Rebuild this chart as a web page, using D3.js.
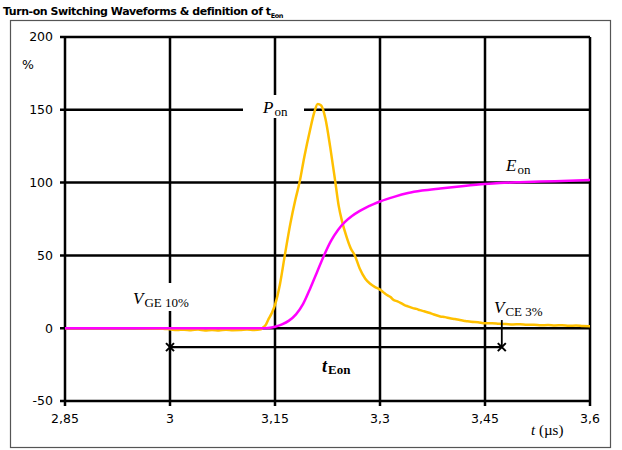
<!DOCTYPE html>
<html>
<head>
<meta charset="utf-8">
<script src="https://cdn.jsdelivr.net/npm/d3@7"></script>
<style>
  body { margin: 0; background: #fff; }
  svg { display: block; }
</style>
</head>
<body>
<svg id="drawing_region"></svg>
<script>
// time axis in microseconds, values in %
const xTicks = [2.85, 3, 3.15, 3.3, 3.45, 3.6];
const yTicks = [-50, 0, 50, 100, 150, 200];

const ponTime = [2.85, 2.9, 2.95, 2.99, 3.0, 3.01, 3.02, 3.03, 3.04, 3.05, 3.06, 3.07, 3.08, 3.09, 3.10, 3.11, 3.12, 3.13,
  3.133, 3.137, 3.140, 3.145, 3.150, 3.157, 3.164, 3.172, 3.179, 3.185, 3.192, 3.200, 3.206, 3.211, 3.216, 3.222,
  3.229, 3.236, 3.241, 3.246, 3.252, 3.258, 3.264, 3.271, 3.279, 3.286, 3.293, 3.300, 3.305, 3.310, 3.315, 3.319,
  3.325, 3.330, 3.335, 3.340, 3.347, 3.352, 3.357, 3.363, 3.370, 3.377, 3.386, 3.393, 3.400, 3.407, 3.414, 3.422,
  3.430, 3.440, 3.450, 3.460, 3.470, 3.480, 3.490, 3.500, 3.510, 3.520, 3.530, 3.540, 3.550, 3.560, 3.570, 3.580, 3.590, 3.600];
const ponValue = [0, 0, 0, -0.3, -0.8, -1.3, -1.0, -1.4, -0.9, -1.5, -1.2, -1.6, -1.0, -1.4, -1.3, -0.9, -1.2, -0.7,
  0.5, 2.5, 5.5, 10, 16, 30, 50, 72, 88, 100, 118, 136, 148, 154, 153, 144,
  124, 101, 84, 73, 63, 55, 50, 41, 34, 30.5, 28.2, 26.5, 24.6, 22.8, 21.4, 19.5,
  18.4, 17.2, 15.9, 15.0, 13.8, 13.3, 12.4, 11.6, 10.6, 9.4, 8.1, 7.6, 6.8, 6.3, 5.6, 5.0,
  4.4, 4.1, 3.4, 3.4, 3.0, 2.8, 2.6, 2.7, 2.3, 2.4, 2.0, 2.2, 1.9, 2.0, 1.7, 1.8, 1.5, 1.4];

const eonTime = [2.85, 3.0, 3.13, 3.14, 3.15, 3.16, 3.17, 3.18, 3.19, 3.2, 3.21, 3.22, 3.23, 3.24, 3.25, 3.26,
  3.27, 3.28, 3.29, 3.3, 3.32, 3.34, 3.36, 3.386, 3.42, 3.45, 3.471, 3.5, 3.55, 3.6];
const eonValue = [0, 0, 0, 0.2, 1, 2.6, 5.2, 9.5, 16.5, 27, 38.5, 50, 60, 67.5, 73, 77,
  80.2, 82.8, 85, 87, 90.2, 92.8, 94.5, 96, 97.7, 99, 99.7, 100.3, 101, 101.8];

// tEon definition: from VGE 10% to VCE 3%
const tEonStart = 3.0;
const tEonEnd = 3.474;
const tEonLevel = -13;
const vceMarkTop = 5.6;

class WaveChart {

    constructor( config ) {
        this.config = {
            parent: config.parent,
            width: config.width || 622,
            height: config.height || 450,
            margin: config.margin || {top:37, right:32, bottom:49, left:65}
        }
        this.init();
    }

    init() {
        let self = this;

        self.svg = d3.select( self.config.parent )
            .attr('width', self.config.width)
            .attr('height', self.config.height);

        self.inner_width = self.config.width - self.config.margin.left - self.config.margin.right;
        self.inner_height = self.config.height - self.config.margin.top - self.config.margin.bottom;

        // title and frame
        let title = self.svg.append('text')
            .attr('x', 3)
            .attr('y', 15)
            .style('font-family', 'DejaVu Sans')
            .style('font-weight', 'bold')
            .style('font-size', '11px')
            .style('letter-spacing', '-0.45px');
        title.append('tspan').text('Turn-on Switching Waveforms & definition of t');
        title.append('tspan').attr('dy', 3).style('font-size', '6.5px').text('Eon');

        self.svg.append('rect')
            .attr('x', 10.5)
            .attr('y', 20.5)
            .attr('width', 600)
            .attr('height', 427)
            .attr('fill', 'none')
            .attr('stroke', '#555')
            .attr('stroke-width', 1.2);

        self.chart = self.svg.append('g')
            .attr('transform', `translate(${self.config.margin.left}, ${self.config.margin.top})`);

        self.xscale = d3.scaleLinear()
            .domain([2.85, 3.6])
            .range([0, self.inner_width]);

        self.yscale = d3.scaleLinear()
            .domain([-50, 200])
            .range([self.inner_height, 0]);
    }

    render() {
        let self = this;
        const x = self.xscale, y = self.yscale;
        const comma = d => String(d).replace('.', ',');

        // grid lines, extended a little past the frame as tick marks
        self.chart.selectAll('.vgrid').data(xTicks)
            .join('line')
            .attr('x1', d => x(d)).attr('x2', d => x(d))
            .attr('y1', 0).attr('y2', self.inner_height + 5)
            .attr('stroke', '#000').attr('stroke-width', 2.5);

        self.chart.selectAll('.hgrid').data(yTicks)
            .join('line')
            .attr('x1', -5).attr('x2', self.inner_width)
            .attr('y1', d => y(d)).attr('y2', d => y(d))
            .attr('stroke', '#000').attr('stroke-width', 2.5);

        self.chart.selectAll('.xlab').data(xTicks)
            .join('text')
            .attr('x', d => x(d))
            .attr('y', self.inner_height + 22)
            .attr('text-anchor', 'middle')
            .style('font-family', 'DejaVu Sans').style('font-size', '12.5px')
            .text(comma);

        self.chart.selectAll('.ylab').data(yTicks)
            .join('text')
            .attr('x', -12)
            .attr('y', d => y(d))
            .attr('dy', '0.35em')
            .attr('text-anchor', 'end')
            .style('font-family', 'DejaVu Sans').style('font-size', '12.5px')
            .text(d => d);

        self.chart.append('text')
            .attr('x', -43).attr('y', 32)
            .style('font-family', 'DejaVu Sans').style('font-size', '12.5px')
            .text('%');

        // white boxes behind annotation labels
        self.chart.append('rect')
            .attr('x', 243 - 65).attr('y', 95 - 37)
            .attr('width', 61).attr('height', 23)
            .attr('fill', '#fff');
        self.chart.append('rect')
            .attr('x', 127 - 65).attr('y', 283 - 37)
            .attr('width', 62).attr('height', 28)
            .attr('fill', '#fff');

        // curves
        const line = d3.line()
            .curve(d3.curveMonotoneX)
            .x(d => x(d[0]))
            .y(d => y(d[1]));

        self.chart.append('path')
            .datum(d3.zip(ponTime, ponValue))
            .attr('d', line)
            .attr('fill', 'none')
            .attr('stroke', '#FFC000')
            .attr('stroke-width', 2.5)
            .attr('stroke-linejoin', 'round');

        self.chart.append('path')
            .datum(d3.zip(eonTime, eonValue))
            .attr('d', line)
            .attr('fill', 'none')
            .attr('stroke', '#FF00FF')
            .attr('stroke-width', 2.5)
            .attr('stroke-linejoin', 'round');

        // tEon span with cross markers
        self.chart.append('line')
            .attr('x1', x(tEonStart)).attr('x2', x(tEonEnd))
            .attr('y1', y(tEonLevel)).attr('y2', y(tEonLevel))
            .attr('stroke', '#000').attr('stroke-width', 2.2);

        self.chart.append('line')
            .attr('x1', x(tEonEnd)).attr('x2', x(tEonEnd))
            .attr('y1', y(vceMarkTop)).attr('y2', y(tEonLevel))
            .attr('stroke', '#000').attr('stroke-width', 1.8);

        self.chart.selectAll('.cross').data([tEonStart, tEonEnd])
            .join('path')
            .attr('d', d => {
                const cx = x(d), cy = y(tEonLevel), r = 4;
                return `M${cx - r},${cy - r}L${cx + r},${cy + r}M${cx - r},${cy + r}L${cx + r},${cy - r}`;
            })
            .attr('stroke', '#000').attr('stroke-width', 2);

        // annotation labels
        const serif = 'Liberation Serif';
        const label = (px, py, main, sub, opts = {}) => {
            const t = self.chart.append('text')
                .attr('x', px - 65).attr('y', py - 37)
                .style('font-family', serif);
            t.append('tspan')
                .style('font-style', 'italic')
                .style('font-weight', opts.bold ? 'bold' : 'normal')
                .style('font-size', (opts.size || 17) + 'px')
                .text(main);
            t.append('tspan')
                .attr('dy', opts.dy || 3)
                .attr('dx', 1)
                .style('font-weight', opts.bold ? 'bold' : 'normal')
                .style('font-size', (opts.subSize || 13) + 'px')
                .text(sub);
            return t;
        };

        label(263, 113, 'P', 'on');
        label(133, 304, 'V', 'GE 10%');
        label(494, 313, 'V', 'CE 3%');
        label(506, 171, 'E', 'on');
        label(322, 372, 't', 'Eon', {bold: true, size: 18, subSize: 13, dy: 2});

        const tl = self.chart.append('text')
            .attr('x', 531 - 65).attr('y', 435 - 37)
            .style('font-family', serif).style('font-size', '15px');
        tl.append('tspan').style('font-style', 'italic').text('t');
        tl.append('tspan').text(' (µs)');
    }
}

const chart = new WaveChart({ parent: '#drawing_region', width: 622, height: 450 });
chart.render();
</script>
</body>
</html>
